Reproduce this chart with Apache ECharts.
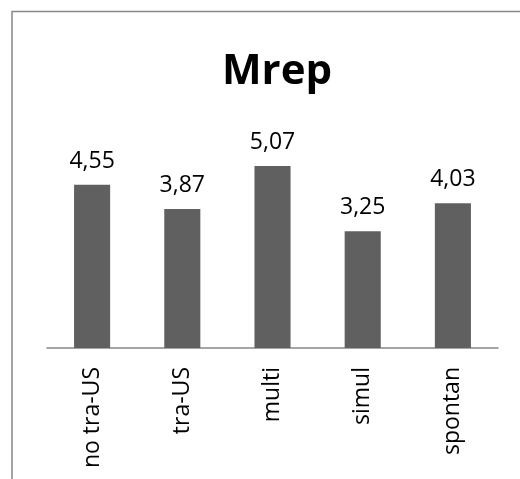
<!DOCTYPE html>
<html><head><meta charset="utf-8">
<script src="https://cdn.jsdelivr.net/npm/echarts@6/dist/echarts.min.js"></script>
<style>html,body{margin:0;padding:0;background:#fff}#c{width:520px;height:479px}</style>
</head><body><div id="c"></div>
<script>
var titleText = "Mrep";
var categories = ["no tra-US", "tra-US", "multi", "simul", "spontan"];
var values = [4.55, 3.87, 5.07, 3.25, 4.03];

var chart = echarts.init(document.getElementById('c'), null, {renderer: 'canvas'});
chart.setOption({
  animation: false,
  backgroundColor: '#fff',
  graphic: [{
    type: 'rect', shape: {x: 12, y: 11.5, width: 700, height: 700},
    style: {fill: 'none', stroke: '#878787', lineWidth: 1.5}, silent: true
  }],
  title: {
    text: titleText, left: 272, textAlign: 'center', top: 46,
    textStyle: {fontFamily: 'Open Sans', fontWeight: 'bold', fontSize: 42, color: '#000'}
  },
  grid: {left: 47, right: 22, top: 132.6, bottom: 131},
  xAxis: {
    type: 'category', data: categories,
    axisLine: {lineStyle: {color: '#888', width: 1.5}},
    axisTick: {show: false},
    axisLabel: {rotate: 90, margin: 19, fontFamily: 'Open Sans', fontSize: 23, color: '#000'}
  },
  yAxis: {
    type: 'value', min: 0, max: 6, show: false
  },
  series: [{
    type: 'bar', data: values, barWidth: '40%',
    itemStyle: {color: '#606060'},
    label: {
      show: true, position: 'top', distance: 12,
      fontFamily: 'Open Sans', fontSize: 23, color: '#000',
      formatter: function (p) { return p.value.toFixed(2).replace('.', ','); }
    }
  }]
});
</script></body></html>
